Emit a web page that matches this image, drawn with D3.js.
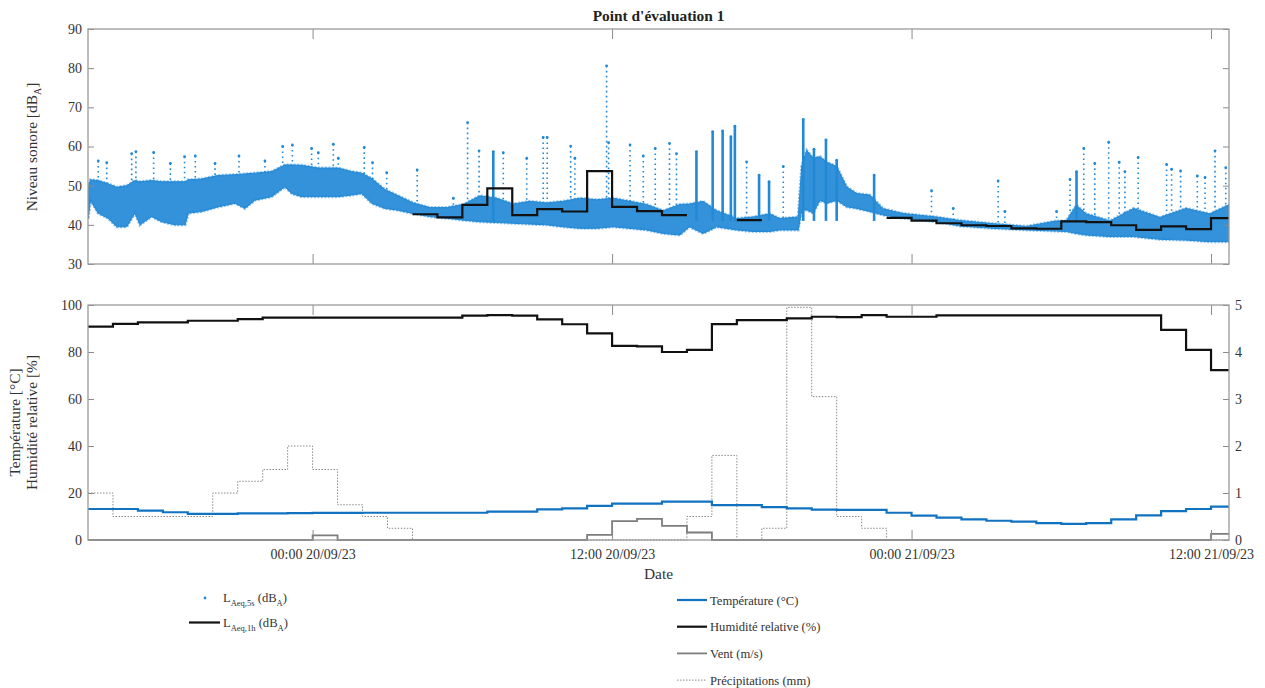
<!DOCTYPE html>
<html>
  <head>
    <meta charset="utf-8">
    <title>Point d'évaluation 1</title>
    <script src="https://d3js.org/d3.v7.min.js"></script>
    <style>
      body { margin: 0; background: #fff; }
      svg { font-family: "Liberation Serif", "DejaVu Serif", serif; }
      .tick text { font-size: 14px; fill: #333; font-family: "Liberation Serif", serif; }
      .tick line { stroke: #8a8a8a; stroke-width: 1; }
      .box { fill: none; stroke: #9a9a9a; stroke-width: 1.3; }
      .label { font-size: 15.4px; fill: #333; }
      .legend text { font-size: 12.6px; fill: #333; }
    </style>
  </head>
  <body>
    <svg id="chart" width="1265" height="688"></svg>
    <script>
      // time axis: hours counted from 19/09/23 15:00
      const startTime = new Date(2023, 8, 19, 15, 0);
      const endHours = 45.72;
      const tickHours = [9, 21, 33, 45];

      // LAeq,5s scatter, read as dense band (low / high) plus isolated peaks
      const bandHours = [0, 0.1, 0.4, 0.8, 1.15, 1.55, 1.88, 2.08, 2.55, 2.95, 3.49, 3.89, 4.02, 4.55, 5.22, 5.89,
        6.29, 6.69, 7.36, 7.89, 8.16, 8.56, 9.23, 10.03, 10.56, 10.97, 11.37, 11.9, 12.37, 13.03, 13.7, 14.37,
        15.04, 15.7, 16.37, 17.04, 17.7, 18.38, 19.04, 19.71, 20.38, 21.04, 21.71, 22.38, 23.05, 23.72, 24.1,
        24.65, 25.19, 25.99, 26.65, 27.32, 27.72, 28.46, 28.6, 28.8, 29.06, 29.33, 29.6, 30.0, 30.4, 30.8,
        31.33, 31.86, 32.66, 34.0, 34.94, 36.27, 37.6, 38.8, 39.2, 39.6, 40.0, 40.95, 41.9, 42.95, 44.0, 44.95, 45.75];
      const bandLow = [41.5, 46.3, 43, 41.7, 39.5, 39.5, 43, 40, 42.1, 40.8, 40, 40, 43, 43.4, 44.6, 45.5,
        44.2, 46.3, 47.2, 49.7, 48, 47.2, 47.2, 47.2, 47.6, 48, 45.5, 44.2, 43.8, 42.9, 42.1, 41.7,
        41.2, 40.8, 40.6, 40.4, 40.2, 40, 39.5, 39.1, 39.1, 39.5, 39.1, 38.7, 37.8, 37.4, 39.5,
        37.8, 39.5, 38.7, 38.3, 38.3, 38.7, 38.7, 43.8, 43.8, 43, 46.3, 45.5, 46.3, 44.6, 44.2,
        43.4, 42.5, 41.7, 40.8, 39.7, 39.1, 38.7, 38.4, 38.3, 37.8, 37.4, 37, 37, 36.3, 36.1, 35.7, 35.7];
      const bandHigh = [49.5, 51.5, 51.3, 50.5, 49.6, 50, 51.3, 51, 51.3, 51, 51, 51, 51.5, 51.7, 52.6, 52.8,
        53, 53.2, 53.6, 55.3, 55.3, 55.2, 54.5, 54.5, 53.6, 53.2, 51.8, 49, 47.6, 45.6, 44.4, 44.4,
        45.2, 47.4, 46.8, 45.3, 46, 45.6, 46, 46.8, 46.4, 46.8, 46, 45.2, 43.6, 45.2, 45.3,
        46, 43.6, 41.6, 42, 42.8, 41.6, 42, 55, 59, 57, 57.4, 56, 54.9, 49.7, 48,
        47.6, 44.1, 42.9, 42, 41.1, 40.3, 39.6, 41, 41, 45, 42.8, 41, 44.2, 41.9, 44.2, 42.8, 45.2];
      const peakHours = [0.41, 0.75, 1.75, 1.92, 2.63, 3.3, 3.87, 4.3, 5.09, 6.05, 7.09, 7.8, 8.19, 8.96, 9.23,
        9.83, 10.03, 11.07, 11.4, 11.97, 13.19, 14.64, 15.21, 15.67, 16.24, 16.64, 17.58, 18.24, 18.4, 19.34,
        19.51, 20.78, 20.86, 21.72, 22.25, 22.73, 23.3, 23.58, 24.38, 25.03, 25.43, 25.76, 25.92, 26.39, 26.89,
        27.29, 27.86, 28.66, 29.09, 29.57, 30.0, 31.5, 33.8, 34.67, 36.47, 36.74, 38.81, 39.35, 39.61, 39.9,
        40.34, 40.9, 41.32, 41.55, 42.08, 43.22, 43.42, 43.78, 44.45, 44.76, 45.16, 45.59];
      const peakValues = [56.3, 55.9, 58.2, 58.7, 58.5, 55.7, 57.4, 57.6, 55.7, 57.6, 56.3, 60, 60.4, 59.5, 58.4,
        60.6, 57, 59.8, 55.9, 53.3, 54, 46.8, 66.1, 58.9, 58.7, 58.4, 57, 62.3, 62.3, 60.1,
        57, 80.6, 61, 60.4, 57.6, 59.5, 60.8, 58.2, 58.7, 63.8, 64, 62.5, 65.2, 56.1, 52.7,
        51, 54.9, 66.9, 59.3, 61.7, 56.5, 52.7, 48.7, 44.2, 51.2, 43.4, 43.4, 51.6, 53.6, 59.5,
        55.7, 61.1, 56, 53.6, 57.2, 55.4, 54.2, 53.8, 52.5, 52.1, 58.9, 54.6];
      const peakDense = [0, 0, 0, 0, 0, 0, 0, 0, 0, 0, 0, 0, 0, 0, 0,
        0, 0, 0, 0, 0, 0, 0, 0, 0, 1, 0, 0, 0, 0, 0,
        0, 0, 0, 0, 0, 0, 0, 0, 1, 1, 1, 1, 1, 0, 1,
        1, 0, 1, 1, 1, 1, 1, 0, 0, 0, 0, 0, 0, 1, 0,
        0, 0, 0, 0, 0, 0, 0, 0, 0, 0, 0, 0];

      // hourly series, index = hours from 19/09/23 15:00
      const leq1h = [null, null, null, null, null, null, null, null, null, null, null, null, null,
        42.7, 41.9, 45.1, 49.3, 42.5, 44.0, 43.4, 53.7, 44.6, 43.5, 42.5, null, null, 41.2,
        null, null, null, null, null, 41.8, 41.1, 40.4, 39.9, 39.7, 39.1, 39.0, 40.9, 40.7, 39.9,
        38.7, 39.6, 38.9, 41.7];
      const temperature = [13.2, 13.2, 12.5, 11.8, 11.1, 11.1, 11.3, 11.3, 11.4, 11.5, 11.5, 11.6, 11.6,
        11.6, 11.6, 11.6, 12.1, 12.1, 13.0, 13.5, 14.5, 15.5, 15.5, 16.3, 16.3, 14.8, 14.8, 14.0,
        13.5, 12.9, 12.8, 12.8, 11.6, 10.4, 9.5, 8.8, 8.2, 7.8, 7.2, 6.9, 7.2, 8.8, 10.5, 12.3, 13.2, 14.2];
      const humidity = [90.8, 92.0, 92.6, 92.6, 93.3, 93.3, 94.0, 94.6, 94.6, 94.6, 94.6, 94.6, 94.6,
        94.6, 94.6, 95.5, 95.7, 95.5, 93.9, 91.8, 87.9, 82.6, 82.4, 80.0, 80.9, 91.9, 93.6, 93.6,
        94.3, 95.0, 94.8, 95.7, 95.0, 95.0, 95.6, 95.6, 95.6, 95.6, 95.6, 95.6, 95.6, 95.6, 95.6,
        89.4, 80.9, 72.3];
      const wind = [0, 0, 0, 0, 0, 0, 0, 0, 0, 0.1, 0, 0, 0, 0, 0, 0, 0, 0, 0, 0, 0.11, 0.4, 0.45,
        0.3, 0.16, 0, 0, 0, 0, 0, 0, 0, 0, 0, 0, 0, 0, 0, 0, 0, 0, 0, 0, 0, 0, 0.13];
      const rain = [1.0, 0.5, 0.5, 0.5, 0.5, 1.0, 1.25, 1.5, 2.0, 1.5, 0.75, 0.5, 0.25, 0, 0, 0, 0, 0,
        0, 0, 0, 0, 0, 0, 0.5, 1.8, 0, 0.25, 4.95, 3.05, 0.5, 0.25, 0, 0, 0, 0, 0, 0, 0, 0, 0, 0,
        0, 0, 0, 0];

      const blue5s = "#2289d6", blueT = "#1172c0";
      function toDate(h) { return new Date(startTime.getTime() + h * 3600e3); }

      const svg = d3.select("#chart");
      svg.append("rect").attr("width", 1265).attr("height", 688).attr("fill", "#fff");

      const x = d3.scaleTime().domain([toDate(0), toDate(endHours)]).range([88, 1229]);
      const yTop = d3.scaleLinear().domain([30, 90]).range([264, 29]);
      const yLeft = d3.scaleLinear().domain([0, 100]).range([540, 305]);
      const yRight = d3.scaleLinear().domain([0, 5]).range([540, 305]);
      const tickDates = tickHours.map(toDate);
      // top edge of the dense band at any hour, used as foot of the peak streaks
      const bandTopAt = d3.scaleLinear().domain(bandHours).range(bandHigh);

      // clip paths
      const defs = svg.append("defs");
      defs.append("clipPath").attr("id", "clipTop").append("rect")
        .attr("x", 88).attr("y", 29).attr("width", 1141).attr("height", 235);
      defs.append("clipPath").attr("id", "clipBot").append("rect")
        .attr("x", 88).attr("y", 304).attr("width", 1141).attr("height", 237);

      // stairs helper (MATLAB-like): each value held for one hour
      function stairPoints(values) {
        const pts = [];
        values.forEach(function(v, i) {
          if (v == null) { pts.push(null); return; }
          pts.push([i, v]);
          if (i === values.length - 1 || values[i + 1] == null) pts.push([i + 1, v]);
        });
        return pts;
      }
      function stairLine(yScale) {
        return d3.line()
          .defined(function(d) { return d !== null; })
          .x(function(d) { return x(toDate(d[0])); })
          .y(function(d) { return yScale(d[1]); })
          .curve(d3.curveStepAfter);
      }

      // ---------- top panel ----------
      const topPanel = svg.append("g").attr("clip-path", "url(#clipTop)");
      peakHours.forEach(function(h, i) {
        const px = x(toDate(h));
        const foot = peakDense[i] ? Math.min(bandTopAt(h), 41) : bandTopAt(h);
        topPanel.append("line")
          .attr("x1", px).attr("x2", px)
          .attr("y1", yTop(peakValues[i])).attr("y2", yTop(foot))
          .attr("stroke", blue5s)
          .attr("stroke-width", peakDense[i] ? 2.6 : 1.6)
          .attr("stroke-dasharray", peakDense[i] ? null : "1.6 3.4");
        topPanel.append("circle")
          .attr("cx", px).attr("cy", yTop(peakValues[i])).attr("r", 1.4)
          .attr("fill", blue5s);
      });
      const band = bandHours.map(function(h, i) { return { t: toDate(h), lo: bandLow[i], hi: bandHigh[i] }; });
      const bandArea = d3.area()
        .x(function(d) { return x(d.t); })
        .y0(function(d) { return yTop(d.lo); })
        .y1(function(d) { return yTop(d.hi); });
      // soft fringe, then dense core
      topPanel.append("path").datum(band)
        .attr("fill", "none").attr("stroke", blue5s).attr("stroke-opacity", 0.5)
        .attr("stroke-width", 3).attr("stroke-dasharray", "2 1.5")
        .attr("d", bandArea);
      topPanel.append("path").datum(band)
        .attr("fill", blue5s).attr("fill-opacity", 0.92)
        .attr("stroke", blue5s).attr("stroke-width", 1)
        .attr("d", bandArea);
      topPanel.append("path")
        .datum(stairPoints(leq1h))
        .attr("fill", "none").attr("stroke", "#111").attr("stroke-width", 2.2)
        .attr("d", stairLine(yTop));

      // axes of top panel
      svg.append("g").attr("transform", "translate(88,0)")
        .call(d3.axisLeft(yTop).tickValues(d3.range(30, 91, 10)).tickSize(-6).tickPadding(6))
        .call(function(g) { g.select(".domain").remove(); });
      svg.append("g").attr("transform", "translate(1229,0)")
        .call(d3.axisRight(yTop).tickValues(d3.range(30, 91, 10)).tickSize(-6).tickFormat(""))
        .call(function(g) { g.select(".domain").remove(); });
      svg.append("g").attr("transform", "translate(0,264)")
        .call(d3.axisBottom(x).tickValues(tickDates).tickSize(-10).tickFormat(""))
        .call(function(g) { g.select(".domain").remove(); });
      svg.append("g").attr("transform", "translate(0,29)")
        .call(d3.axisTop(x).tickValues(tickDates).tickSize(-10).tickFormat(""))
        .call(function(g) { g.select(".domain").remove(); });
      svg.append("rect").attr("class", "box").attr("x", 88).attr("y", 29).attr("width", 1141).attr("height", 235);

      // ---------- bottom panel ----------
      const botPanel = svg.append("g").attr("clip-path", "url(#clipBot)");
      botPanel.append("path")
        .datum(stairPoints(rain))
        .attr("fill", "none").attr("stroke", "#8a8a8a").attr("stroke-width", 1)
        .attr("stroke-dasharray", "1.5 1.5")
        .attr("d", stairLine(yRight));
      botPanel.append("path")
        .datum(stairPoints(wind))
        .attr("fill", "none").attr("stroke", "#7d7d7d").attr("stroke-width", 1.8)
        .attr("d", stairLine(yRight));
      botPanel.append("path")
        .datum(stairPoints(temperature))
        .attr("fill", "none").attr("stroke", blueT).attr("stroke-width", 2.2)
        .attr("d", stairLine(yLeft));
      botPanel.append("path")
        .datum(stairPoints(humidity))
        .attr("fill", "none").attr("stroke", "#111").attr("stroke-width", 2.2)
        .attr("d", stairLine(yLeft));

      svg.append("g").attr("transform", "translate(88,0)")
        .call(d3.axisLeft(yLeft).tickValues(d3.range(0, 101, 20)).tickSize(-6).tickPadding(6))
        .call(function(g) { g.select(".domain").remove(); });
      svg.append("g").attr("transform", "translate(1229,0)")
        .call(d3.axisRight(yRight).tickValues(d3.range(0, 6, 1)).tickSize(-6).tickPadding(6)
          .tickFormat(d3.format("d")))
        .call(function(g) { g.select(".domain").remove(); });
      svg.append("g").attr("transform", "translate(0,540)")
        .call(d3.axisBottom(x).tickValues(tickDates).tickSize(-10).tickPadding(9)
          .tickFormat(d3.timeFormat("%H:%M %d/%m/%y")))
        .call(function(g) { g.select(".domain").remove(); });
      svg.append("g").attr("transform", "translate(0,305)")
        .call(d3.axisTop(x).tickValues(tickDates).tickSize(-10).tickFormat(""))
        .call(function(g) { g.select(".domain").remove(); });
      svg.append("rect").attr("class", "box").attr("x", 88).attr("y", 305).attr("width", 1141).attr("height", 235);

      // ---------- titles and labels ----------
      svg.append("text").attr("x", 658.5).attr("y", 21).attr("text-anchor", "middle")
        .attr("font-size", "15.4px").attr("font-weight", "bold").attr("fill", "#222")
        .text("Point d'évaluation 1");
      svg.append("text").attr("class", "label").attr("x", 658.5).attr("y", 579)
        .attr("text-anchor", "middle").text("Date");

      const yl = svg.append("text").attr("class", "label").attr("text-anchor", "middle")
        .attr("transform", "translate(37,147) rotate(-90)");
      yl.append("tspan").text("Niveau sonore [dB");
      yl.append("tspan").attr("dy", 4).attr("font-size", "10px").text("A");
      yl.append("tspan").attr("dy", -4).text("]");

      svg.append("text").attr("class", "label").attr("text-anchor", "middle")
        .attr("transform", "translate(20,422.5) rotate(-90)").text("Température [°C]");
      svg.append("text").attr("class", "label").attr("text-anchor", "middle")
        .attr("transform", "translate(37,422.5) rotate(-90)").text("Humidité relative [%]");

      // ---------- legends ----------
      const legL = svg.append("g").attr("class", "legend");
      legL.append("circle").attr("cx", 205).attr("cy", 598).attr("r", 1.4).attr("fill", blue5s);
      legL.append("line").attr("x1", 189).attr("x2", 220).attr("y1", 622.5).attr("y2", 622.5)
        .attr("stroke", "#111").attr("stroke-width", 2.2);
      [["Aeq,5s", 602], ["Aeq,1h", 627]].forEach(function(d) {
        const t = legL.append("text").attr("x", 223).attr("y", d[1]);
        t.append("tspan").text("L");
        t.append("tspan").attr("dy", 3.5).attr("font-size", "8.5px").text(d[0]);
        t.append("tspan").attr("dy", -3.5).text(" (dB");
        t.append("tspan").attr("dy", 3.5).attr("font-size", "8.5px").text("A");
        t.append("tspan").attr("dy", -3.5).text(")");
      });

      const legendItems = ["Température (°C)", "Humidité relative (%)", "Vent (m/s)", "Précipitations (mm)"];
      const legendStyles = [[blueT, 2.2, null], ["#111", 2.2, null], ["#7d7d7d", 1.8, null], ["#8a8a8a", 1, "1.5 1.5"]];
      const legR = svg.append("g").attr("class", "legend");
      legendItems.forEach(function(name, i) {
        const cy = 600 + i * 26.7;
        legR.append("line").attr("x1", 677).attr("x2", 707).attr("y1", cy).attr("y2", cy)
          .attr("stroke", legendStyles[i][0]).attr("stroke-width", legendStyles[i][1])
          .attr("stroke-dasharray", legendStyles[i][2]);
        legR.append("text").attr("x", 710).attr("y", cy + 4.5).text(name);
      });
    </script>
  </body>
</html>
